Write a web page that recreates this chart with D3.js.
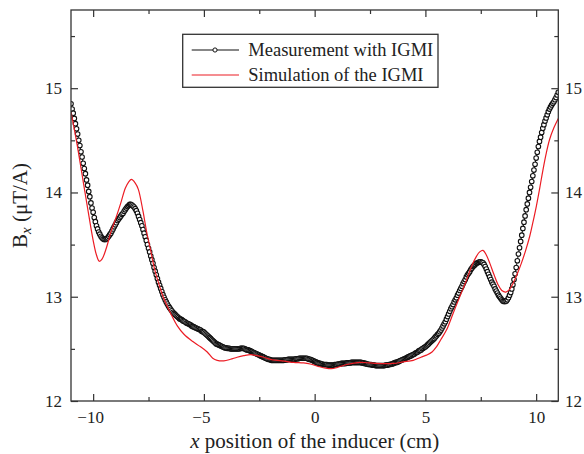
<!DOCTYPE html>
<html><head><meta charset="utf-8">
<script src="https://cdn.jsdelivr.net/npm/d3@7"></script>
<style>body{margin:0;background:#fff}svg{display:block}</style>
</head><body><svg id="c" width="584" height="454"></svg>
<script>
// ---- data ----
const xTicks = [-10, -5, 0, 5, 10];
const xMinorTicks = [-7.5, -2.5, 2.5, 7.5];
const yTicks = [12, 13, 14, 15];
const yMinorTicks = [12.5, 13.5, 14.5, 15.5];
const seriesNames = ["Measurement with IGMI", "Simulation of the IGMI"];

// measurement: sampled every 0.05 cm from -11 to 11
const measStart = -11, measStep = 0.05;
const measY = [
14.85,14.80,14.76,14.71,14.66,14.61,14.56,14.50,14.45,14.39,14.34,14.28,14.23,14.18,14.12,14.07,14.01,13.96,13.90,13.85,
13.81,13.76,13.72,13.68,13.65,13.62,13.60,13.58,13.565,13.555,13.55,13.55,13.555,13.565,13.58,13.595,13.61,13.63,13.65,13.67,
13.69,13.71,13.73,13.745,13.76,13.775,13.79,13.80,13.82,13.835,13.85,13.865,13.875,13.885,13.885,13.88,13.87,13.86,13.845,13.825,
13.80,13.77,13.74,13.71,13.68,13.645,13.61,13.575,13.54,13.50,13.465,13.43,13.39,13.355,13.32,13.28,13.245,13.21,13.175,13.14,
13.11,13.08,13.05,13.02,12.995,12.97,12.95,12.93,12.91,12.895,12.88,12.865,12.85,12.84,12.83,12.82,12.81,12.80,12.79,12.785,
12.78,12.77,12.765,12.76,12.75,12.745,12.74,12.735,12.73,12.72,12.715,12.71,12.705,12.70,12.695,12.69,12.685,12.68,12.67,12.665,
12.66,12.65,12.64,12.63,12.62,12.61,12.60,12.59,12.58,12.57,12.56,12.55,12.545,12.54,12.535,12.53,12.525,12.52,12.515,12.51,
12.51,12.505,12.505,12.505,12.50,12.50,12.50,12.50,12.50,12.50,12.50,12.50,12.50,12.505,12.505,12.505,12.505,12.50,12.495,12.49,
12.49,12.485,12.48,12.475,12.47,12.465,12.46,12.455,12.45,12.445,12.44,12.435,12.43,12.425,12.42,12.415,12.41,12.405,12.40,12.40,
12.395,12.39,12.39,12.39,12.39,12.39,12.39,12.39,12.39,12.39,12.39,12.39,12.39,12.395,12.395,12.395,12.40,12.40,12.40,12.40,
12.40,12.40,12.40,12.405,12.405,12.405,12.41,12.41,12.41,12.41,12.41,12.41,12.41,12.41,12.405,12.40,12.40,12.395,12.39,12.385,
12.38,12.375,12.37,12.365,12.36,12.36,12.355,12.355,12.35,12.35,12.35,12.35,12.345,12.345,12.345,12.345,12.345,12.345,12.35,12.35,
12.35,12.355,12.355,12.355,12.36,12.36,12.36,12.36,12.36,12.365,12.365,12.365,12.365,12.37,12.37,12.37,12.37,12.37,12.37,12.37,
12.37,12.37,12.37,12.365,12.365,12.36,12.36,12.355,12.355,12.35,12.35,12.35,12.345,12.345,12.345,12.34,12.34,12.34,12.34,12.34,
12.34,12.34,12.34,12.34,12.345,12.345,12.345,12.35,12.35,12.355,12.355,12.36,12.365,12.37,12.37,12.375,12.38,12.385,12.39,12.395,
12.40,12.405,12.41,12.415,12.42,12.425,12.43,12.435,12.44,12.445,12.45,12.46,12.465,12.47,12.48,12.485,12.49,12.50,12.505,12.515,
12.52,12.53,12.54,12.55,12.56,12.57,12.58,12.59,12.60,12.615,12.625,12.64,12.65,12.665,12.68,12.70,12.72,12.74,12.76,12.785,
12.81,12.835,12.86,12.885,12.905,12.925,12.95,12.97,12.99,13.015,13.035,13.06,13.08,13.10,13.125,13.145,13.165,13.19,13.21,13.225,
13.24,13.26,13.275,13.29,13.30,13.31,13.32,13.325,13.33,13.335,13.335,13.33,13.325,13.31,13.29,13.265,13.24,13.215,13.19,13.165,
13.14,13.12,13.10,13.075,13.055,13.035,13.015,13.00,12.985,12.97,12.96,12.955,12.955,12.96,12.97,12.99,13.015,13.04,13.075,13.115,
13.165,13.22,13.28,13.345,13.41,13.47,13.53,13.59,13.655,13.715,13.775,13.835,13.89,13.945,14.00,14.05,14.105,14.16,14.215,14.27,
14.33,14.385,14.44,14.49,14.53,14.575,14.615,14.65,14.685,14.715,14.745,14.775,14.80,14.82,14.84,14.855,14.87,14.89,14.91,14.935,
14.96
];

// simulation
const simX = [-11.0,-10.75,-10.5,-10.25,-10.0,-9.85,-9.72,-9.6,-9.4,-9.2,-8.95,-8.75,-8.55,-8.4,-8.27,-8.1,-7.96,-7.75,-7.6,-7.4,-7.22,-7.0,-6.84,-6.5,-6.2,-5.9,-5.5,-5.15,-4.85,-4.6,-4.4,-4.1,-3.8,-3.5,-3.2,-2.9,-2.6,-2.3,-2.0,-1.7,-1.3,-0.95,-0.5,-0.2,0.2,0.5,0.75,1.0,1.45,2.05,2.5,2.8,3.55,4.0,4.45,4.8,5.05,5.3,5.5,5.7,5.95,6.25,6.55,6.86,7.1,7.31,7.45,7.6,7.75,7.91,8.1,8.28,8.45,8.63,8.8,8.96,9.15,9.33,9.52,9.71,9.85,10.01,10.16,10.31,10.46,10.61,10.8,11.0];
const simY = [14.77,14.49,14.17,13.85,13.54,13.40,13.34,13.36,13.47,13.62,13.77,13.90,14.04,14.10,14.125,14.09,14.03,13.82,13.64,13.44,13.26,13.10,13.0,12.84,12.72,12.64,12.57,12.52,12.47,12.41,12.39,12.385,12.40,12.42,12.435,12.445,12.435,12.42,12.40,12.39,12.38,12.37,12.365,12.355,12.33,12.315,12.31,12.32,12.35,12.37,12.365,12.36,12.36,12.375,12.39,12.42,12.44,12.47,12.52,12.59,12.68,12.84,13.0,13.16,13.30,13.39,13.43,13.445,13.40,13.32,13.21,13.115,13.06,13.045,13.07,13.13,13.22,13.32,13.44,13.58,13.71,13.87,14.04,14.22,14.38,14.51,14.62,14.71];

// ---- drawing ----
const FONT = "'Liberation Serif','Times New Roman',serif";
const AX = "#333";
const RED = "#ec1c24";
const m = {l: 71, r: 558.3, t: 10, b: 401};
const svg = d3.select("#c").style("font-family", FONT);
const x = d3.scaleLinear().domain([-11, 11]).range([m.l, m.r]);
const y = d3.scaleLinear().domain([12, 15.75]).range([m.b, m.t]);

const meas = measY.map((v, i) => [measStart + i * measStep, v]);
const sim = simX.map((v, i) => [v, simY[i]]);

svg.append("defs").append("clipPath").attr("id", "clip")
  .append("rect").attr("x", m.l).attr("y", m.t).attr("width", m.r - m.l).attr("height", m.b - m.t);

const plot = svg.append("g").attr("clip-path", "url(#clip)");
const line = d3.line().x(d => x(d[0])).y(d => y(d[1]));
plot.append("path").datum(meas).attr("d", line)
  .attr("fill", "none").attr("stroke", "#111").attr("stroke-width", 1);
plot.append("g").selectAll("circle").data(meas).join("circle")
  .attr("cx", d => x(d[0])).attr("cy", d => y(d[1])).attr("r", 2.3)
  .attr("fill", "#fff").attr("stroke", "#111").attr("stroke-width", 1.1);
plot.append("path").datum(sim).attr("d", line.curve(d3.curveCatmullRom))
  .attr("fill", "none").attr("stroke", RED).attr("stroke-width", 1.2);

// axes
function styleAxis(g) {
  g.select(".domain").remove();
  g.selectAll("line").attr("stroke", AX).attr("stroke-width", 1.2);
  g.selectAll("text").attr("fill", "#222").style("font-size", "17px").style("font-family", FONT);
}
const fmt = d => d < 0 ? "\u2212" + Math.abs(d) : String(d);
svg.append("g").attr("transform", `translate(0,${m.b})`)
  .call(d3.axisBottom(x).tickValues(xTicks).tickSize(-7).tickPadding(9.6).tickFormat(fmt)).call(styleAxis)
  .selectAll("text").attr("dx", d => d < 0 ? -3 : 0);
svg.append("g").attr("transform", `translate(0,${m.b})`)
  .call(d3.axisBottom(x).tickValues(xMinorTicks).tickSize(-4).tickFormat("")).call(styleAxis);
svg.append("g").attr("transform", `translate(0,${m.t})`)
  .call(d3.axisTop(x).tickValues(xTicks).tickSize(-7).tickFormat("")).call(styleAxis);
svg.append("g").attr("transform", `translate(0,${m.t})`)
  .call(d3.axisTop(x).tickValues(xMinorTicks).tickSize(-4).tickFormat("")).call(styleAxis);
svg.append("g").attr("transform", `translate(${m.l},0)`)
  .call(d3.axisLeft(y).tickValues(yTicks).tickSize(-7).tickPadding(9).tickFormat(fmt)).call(styleAxis);
svg.append("g").attr("transform", `translate(${m.l},0)`)
  .call(d3.axisLeft(y).tickValues(yMinorTicks).tickSize(-4).tickFormat("")).call(styleAxis);
svg.append("g").attr("transform", `translate(${m.r},0)`)
  .call(d3.axisRight(y).tickValues(yTicks).tickSize(-7).tickPadding(6.7).tickFormat(fmt)).call(styleAxis);
svg.append("g").attr("transform", `translate(${m.r},0)`)
  .call(d3.axisRight(y).tickValues(yMinorTicks).tickSize(-4).tickFormat("")).call(styleAxis);

svg.append("rect").attr("x", m.l).attr("y", m.t).attr("width", m.r - m.l).attr("height", m.b - m.t)
  .attr("fill", "none").attr("stroke", AX).attr("stroke-width", 1.3);

// axis titles
const xt = svg.append("text").attr("x", (m.l + m.r) / 2).attr("y", 448).attr("text-anchor", "middle")
  .attr("fill", "#222").style("font-size", "21px");
xt.append("tspan").attr("font-style", "italic").text("x");
xt.append("tspan").text(" position of the inducer (cm)");

const yt = svg.append("text").attr("transform", `translate(27,${(m.t + m.b) / 2}) rotate(-90)`)
  .attr("text-anchor", "middle").attr("fill", "#222").style("font-size", "21px");
yt.append("tspan").text("B");
yt.append("tspan").attr("font-style", "italic").attr("dy", 4).style("font-size", "15px").text("x");
yt.append("tspan").attr("dy", -4).text(" (\u03BCT/A)");

// legend
const lg = svg.append("g");
lg.append("rect").attr("x", 182.7).attr("y", 34.3).attr("width", 255.3).attr("height", 53)
  .attr("fill", "#fff").attr("stroke", AX).attr("stroke-width", 1.3);
const rows = [50, 75];
lg.append("line").attr("x1", 191.7).attr("x2", 239).attr("y1", rows[0]).attr("y2", rows[0])
  .attr("stroke", "#111").attr("stroke-width", 1.2);
lg.append("circle").attr("cx", 215).attr("cy", rows[0]).attr("r", 2.1)
  .attr("fill", "#fff").attr("stroke", "#111").attr("stroke-width", 1);
lg.append("line").attr("x1", 191.7).attr("x2", 239).attr("y1", rows[1]).attr("y2", rows[1])
  .attr("stroke", RED).attr("stroke-width", 1.2);
seriesNames.forEach((s, i) => {
  lg.append("text").attr("x", 248.3).attr("y", rows[i] + 5.8).attr("fill", "#222")
    .style("font-size", "18.5px").text(s);
});
</script></body></html>
